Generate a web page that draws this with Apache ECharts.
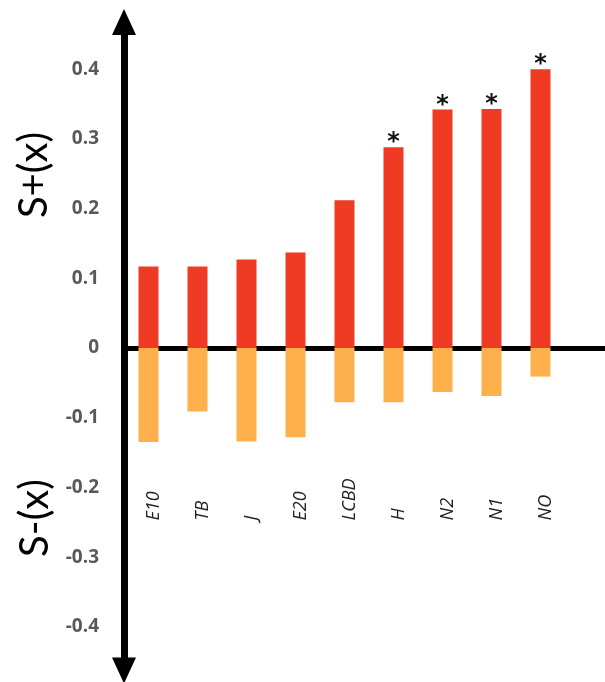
<!DOCTYPE html>
<html>
<head>
<meta charset="utf-8">
<script src="https://cdn.jsdelivr.net/npm/echarts@6/dist/echarts.min.js"></script>
<style>html,body{margin:0;padding:0;background:#fff;}#c{width:605px;height:682px;}</style>
</head>
<body>
<div id="c"></div>
<script>
const categories = ['E10', 'TB', 'J', 'E20', 'LCBD', 'H', 'N2', 'N1', 'NO'];
const sPlus = [0.117, 0.117, 0.127, 0.137, 0.212, 0.288, 0.342, 0.343, 0.400];
const sMinus = [-0.135, -0.091, -0.134, -0.128, -0.078, -0.078, -0.063, -0.069, -0.041];
const significant = [false, false, false, false, false, true, true, true, true];
const yTicks = [-0.4, -0.3, -0.2, -0.1, 0, 0.1, 0.2, 0.3, 0.4];

const chart = echarts.init(document.getElementById('c'), null, {renderer: 'canvas'});
const cats = categories.concat(['']);
chart.setOption({
  animation: false,
  backgroundColor: '#ffffff',
  grid: {left: 124, right: -9, top: 22, bottom: 11.5, containLabel: false, outerBoundsMode: 'none'},
  xAxis: {
    type: 'category',
    data: cats,
    axisLine: {show: true, onZero: true, lineStyle: {color: '#000', width: 5}},
    axisTick: {show: false},
    axisLabel: {
      interval: 0, rotate: 90, margin: -150, align: 'left', verticalAlign: 'top',
      lineHeight: 10,
      fontFamily: 'Open Sans', fontStyle: 'italic', fontSize: 18, color: '#222'
    },
    splitLine: {show: false}
  },
  yAxis: {
    type: 'value',
    min: -0.4627, max: 0.4677,
    axisLine: {show: true, onZero: false, symbol: ['triangle', 'triangle'], symbolSize: [24, 26],
      lineStyle: {color: '#000', width: 7}},
    axisTick: {show: false},
    splitLine: {show: false},
    axisLabel: {
      customValues: yTicks, margin: 25,
      formatter: v => (Math.abs(v) < 1e-9 ? '0' : String(Math.round(v * 10) / 10)),
      fontFamily: 'Open Sans', fontWeight: 'bold', fontSize: 19, color: '#595959'
    }
  },
  series: [
    {
      type: 'bar', data: sPlus, barWidth: 20, barGap: '-100%',
      itemStyle: {color: '#EF3B23'},
      label: {
        show: true, position: 'top', distance: -8,
        formatter: p => (significant[p.dataIndex] ? '*' : ''),
        fontFamily: 'DejaVu Sans', fontWeight: 'bold', fontSize: 24, color: '#111'
      }
    },
    {
      type: 'bar', data: sMinus, barWidth: 20, barGap: '-100%',
      itemStyle: {color: '#FDB04B'}
    }
  ],
  graphic: [
    {type: 'text', x: 34, y: 175, rotation: Math.PI / 2,
      style: {text: 'S+(x)', font: '40px Lato', fill: '#000', align: 'center', verticalAlign: 'middle'}},
    {type: 'text', x: 35, y: 518, rotation: Math.PI / 2,
      style: {text: 'S-(x)', font: '40px Lato', fill: '#000', align: 'center', verticalAlign: 'middle'}}
  ]
});
</script>
</body>
</html>
